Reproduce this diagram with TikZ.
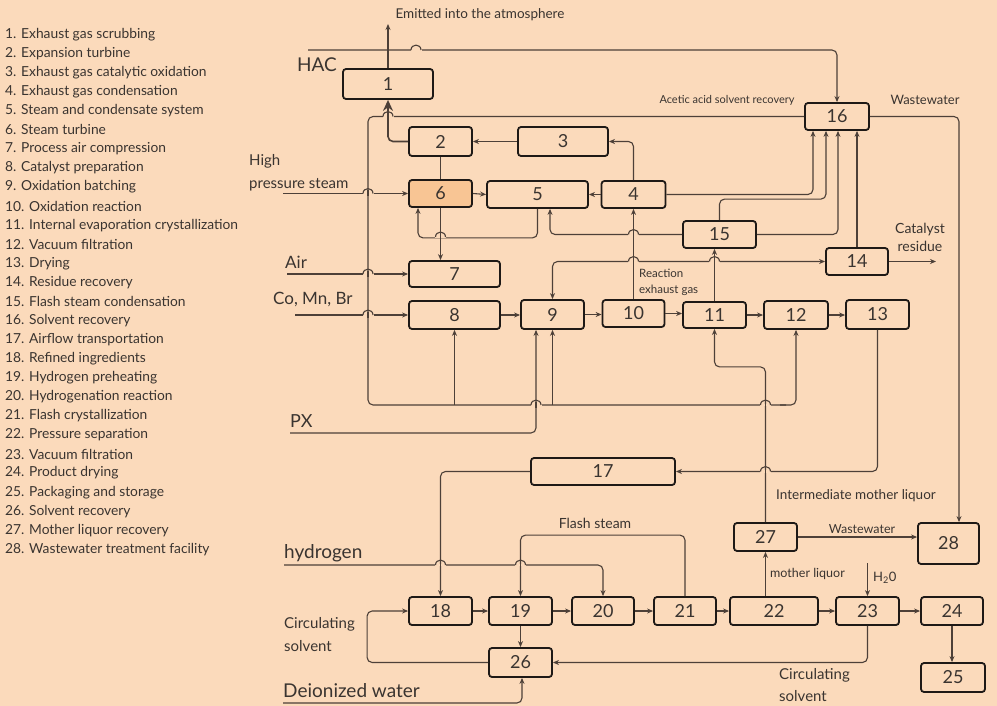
\documentclass[tikz,border=0pt]{standalone}
\usepackage{fontspec}
\setmainfont{Lato}
\usetikzlibrary{arrows.meta,calc}
\definecolor{bgcol}{RGB}{251,218,187}
\definecolor{hotcol}{RGB}{248,197,148}
\definecolor{linecol}{RGB}{77,64,56}
\definecolor{boxcol}{RGB}{30,25,22}
\definecolor{txtcol}{RGB}{58,52,48}
\tikzset{
  box/.style={draw=boxcol, line width=1.8pt, rounded corners=3pt, fill=bgcol, inner sep=0pt,
    text=txtcol, font=\fontsize{18}{18}\selectfont},
  line/.style={draw=linecol, line width=1.1pt},
  conn/.style={line, rounded corners=5pt, -{Stealth[length=6pt,width=5pt]}},
  lbl/.style={text=txtcol, inner sep=0pt},
  legend/.style={lbl, anchor=west, font=\fontsize{13.8}{15}\selectfont},
}
\newcommand\hop[3][]{%
  \fill[bgcol] ({#2-5.5},{#3-1.4}) rectangle ({#2+5.5},{#3+1.4});
  \draw[line,#1] ({#2},{#3-3}) -- ({#2},{#3+3});
  \draw[line] ({#2-5},{#3}) .. controls ({#2-5},{#3-6.5}) and ({#2+5},{#3-6.5}) .. ({#2+5},{#3});}
\newcommand\hopn[2]{%
  \fill[bgcol] ({#1-5.5},{#2-1.4}) rectangle ({#1+5.5},{#2+1.4});
  \draw[line] ({#1-5},{#2}) .. controls ({#1-5},{#2-6.5}) and ({#1+5},{#2-6.5}) .. ({#1+5},{#2});}
\begin{document}
\begin{tikzpicture}[x=1pt,y=-1pt]
\fill[bgcol] (0,0) rectangle (997,706);
\path[use as bounding box] (0,0) rectangle (997,706);

% legend
\foreach \t [count=\i] in {1. Exhaust gas scrubbing, 2. Expansion turbine, 3. Exhaust gas catalytic oxidation,
  4. Exhaust gas condensation, 5. Steam and condensate system, 6. Steam turbine, 7. Process air compression,
  8. Catalyst preparation, 9. Oxidation batching, 10. Oxidation reaction, 11. Internal evaporation crystallization,
  12. Vacuum filtration, 13. Drying, 14. Residue recovery, 15. Flash steam condensation, 16. Solvent recovery,
  17. Airflow transportation, 18. Refined ingredients, 19. Hydrogen preheating, 20. Hydrogenation reaction,
  21. Flash crystallization, 22. Pressure separation, 23. Vacuum filtration, 24. Product drying,
  25. Packaging and storage, 26. Solvent recovery, 27. Mother liquor recovery, 28. Wastewater treatment facility}
  \node[legend] (leg\i) at (5,{34.5+(\i-1)*19.07}) {\t};

% boxes
\node[box, minimum width=90pt, minimum height=30pt] (n1) at (388,84) {1};
\node[box, minimum width=63pt, minimum height=29pt] (n2) at (440.5,141.5) {2};
\node[box, minimum width=90pt, minimum height=29pt] (n3) at (563,141.5) {3};
\node[box, minimum width=64pt, minimum height=27pt] (n4) at (633.5,194.5) {4};
\node[box, minimum width=101pt, minimum height=27pt] (n5) at (537.5,194.5) {5};
\node[box, fill=hotcol, minimum width=63pt, minimum height=27pt] (n6) at (440.5,193.5) {6};
\node[box, minimum width=91pt, minimum height=26pt] (n7) at (454.5,274) {7};
\node[box, minimum width=91pt, minimum height=28pt] (n8) at (454.5,315) {8};
\node[box, minimum width=63pt, minimum height=29pt] (n9) at (552.5,314.5) {9};
\node[box, minimum width=62pt, minimum height=27pt] (n10) at (633.5,313.5) {10};
\node[box, minimum width=63pt, minimum height=26pt] (n11) at (714.5,315) {11};
\node[box, minimum width=64pt, minimum height=28pt] (n12) at (796,315) {12};
\node[box, minimum width=63pt, minimum height=29pt] (n13) at (877.5,314.5) {13};
\node[box, minimum width=62pt, minimum height=27pt] (n14) at (857,261.5) {14};
\node[box, minimum width=73pt, minimum height=27pt] (n15) at (719.5,234.5) {15};
\node[box, minimum width=64pt, minimum height=27pt] (n16) at (837,116.5) {16};
\node[box, minimum width=144pt, minimum height=27pt] (n17) at (603,471.5) {17};
\node[box, minimum width=63pt, minimum height=28pt] (n18) at (440.5,611) {18};
\node[box, minimum width=63pt, minimum height=28pt] (n19) at (520.5,611) {19};
\node[box, minimum width=62pt, minimum height=28pt] (n20) at (603,611) {20};
\node[box, minimum width=62pt, minimum height=28pt] (n21) at (685,611) {21};
\node[box, minimum width=88pt, minimum height=28pt] (n22) at (774,611) {22};
\node[box, minimum width=63pt, minimum height=28pt] (n23) at (867.5,611) {23};
\node[box, minimum width=62pt, minimum height=28pt] (n24) at (952,611) {24};
\node[box, minimum width=64pt, minimum height=29pt] (n25) at (953,677.5) {25};
\node[box, minimum width=63pt, minimum height=29pt] (n26) at (520.5,662.5) {26};
\node[box, minimum width=63pt, minimum height=28pt] (n27) at (765.5,537) {27};
\node[box, minimum width=61pt, minimum height=41pt] (n28) at (948.5,543.5) {28};

% free ends
\coordinate (atm) at (388,24);
\coordinate (hacS) at (308,50);
\coordinate (steamS) at (283,193.5);
\coordinate (airS) at (287,274);
\coordinate (coS) at (295,315);
\coordinate (pxS) at (290,433);
\coordinate (h2S) at (284,565);
\coordinate (diS) at (283,703);
\coordinate (cres) at (936,261.5);
\coordinate (h2o) at (867.5,563);

% labels
\node[lbl, font=\fontsize{13.5}{15}\selectfont] (tatm) at (480,15) {Emitted into the atmosphere};
\node[lbl, anchor=west, font=\fontsize{19}{21}\selectfont] (thac) at (297,65) {HAC};
\node[lbl, anchor=west, align=left, font=\fontsize{15}{23}\selectfont] (tsteam) at (249,172.5) {High\\pressure steam};
\node[lbl, anchor=west, font=\fontsize{17}{19}\selectfont] (tair) at (285,262) {Air};
\node[lbl, anchor=west, font=\fontsize{17}{19}\selectfont] (tco) at (273,299) {Co, Mn, Br};
\node[lbl, anchor=west, font=\fontsize{18}{20}\selectfont] (tpx) at (290,421) {PX};
\node[lbl, anchor=west, font=\fontsize{19}{21}\selectfont] (th2) at (284,553) {hydrogen};
\node[lbl, anchor=west, align=left, font=\fontsize{15}{23}\selectfont] (tcs1) at (284,634.5) {Circulating\\solvent};
\node[lbl, anchor=west, font=\fontsize{19}{21}\selectfont] (tdi) at (283,691) {Deionized water};
\node[lbl, font=\fontsize{11}{13}\selectfont] (tacet) at (727,100.5) {Acetic acid solvent recovery};
\node[lbl, font=\fontsize{13}{15}\selectfont] (tww1) at (925,100) {Wastewater};
\node[lbl, align=center, font=\fontsize{14}{18}\selectfont] (tcat) at (920,237) {Catalyst\\residue};
\node[lbl, anchor=west, align=left, font=\fontsize{11.5}{16}\selectfont] (treac) at (639,282) {Reaction\\exhaust gas};
\node[lbl, anchor=west, font=\fontsize{13.5}{15}\selectfont] (timl) at (776,496) {Intermediate mother liquor};
\node[lbl, font=\fontsize{14}{16}\selectfont] (tfs) at (595,523) {Flash steam};
\node[lbl, font=\fontsize{12.5}{15}\selectfont] (tww2) at (862,529) {Wastewater};
\node[lbl, anchor=west, font=\fontsize{12.5}{15}\selectfont] (tml) at (770,574) {mother liquor};
\node[lbl, anchor=west, font=\fontsize{13}{15}\selectfont] (th2o) at (873,578) {H\textsubscript{2}0};
\node[lbl, anchor=west, align=left, font=\fontsize{15}{22}\selectfont] (tcs2) at (779,685) {Circulating\\solvent};

% connectors
\draw[conn] (n1.north) -- (atm);
\draw[conn] (hacS) -| (n16.north);
\draw[conn, line width=1.6pt, -{Stealth[length=11pt,width=10pt]}] (n2.west) -| (n1.south);
\draw[line, rounded corners=5pt] (n16.west) -- (368,116.5) -- (368,405) -- (786,405);
\draw[conn] (780,405) -| (n12.south);
\draw[conn] (n8.south |- 0,405) -- (n8.south);
\draw[conn] (n9.south |- 0,405) -- (n9.south);
\draw[conn] (n4.north) |- (n3.east);
\draw[conn] (n3.west) -- (n2.east);
\draw[line] (n2.south) -- (n6.north);
\draw[conn] (n6.south) -- (n6.south |- n7.north);
\draw[conn] (n6.east) -- (n5.west);
\draw[conn] (n4.west) -- (n5.east);
\draw[conn] (n5.south) -- ++(0,29) -| ([xshift=-22.5pt]n6.south);
\draw[conn] (n15.west) -| ([xshift=12.5pt]n5.south);
\draw[conn] (n10.north) -- (n4.south);
\draw[conn] (n4.east) -| ([xshift=-24pt]n16.south);
\draw[conn] (n15.north) -- ++(0,-21) -| ([xshift=-11pt]n16.south);
\draw[conn] (n15.east) -| ([xshift=1pt]n16.south);
\draw[conn] (n14.north) -- (n14.north |- n16.south);
\draw[conn] (n16.east) -| ([xshift=10.5pt]n28.north);
\draw[conn] (n11.north) -- (n11.north |- n15.south);
\draw[conn, {Stealth[length=6pt,width=5pt]}-{Stealth[length=6pt,width=5pt]}] (n9.north) |- (n14.west);
\draw[conn] (n14.east) -- (cres);
\draw[conn] (n8.east) -- (n9.west |- n8.east);
\draw[conn] (n9.east) -- (n10.west |- n9.east);
\draw[conn] (n10.east) -- (n11.west |- n10.east);
\draw[conn] (n11.east) -- (n12.west);
\draw[conn] (n12.east) -- (n13.west |- n12.east);
\draw[conn] (steamS) -- (n6.west);
\draw[conn] (airS) -- (n7.west);
\draw[conn] (coS) -- (n8.west);
\draw[conn] (pxS) -| ([xshift=-16.5pt]n9.south);
\draw[conn] (n13.south) |- (n17.east);
\draw[conn] (n27.north) |- ([yshift=-38pt]n11.south) -- (n11.south);
\draw[conn] (n17.west) -| (n18.north);
\draw[conn] (h2S) -| (n20.north);
\draw[conn] (n21.north) -- ++(0,-61) -| (n19.north);
\draw[conn] (n18.east) -- (n19.west);
\draw[conn] (n19.east) -- (n20.west);
\draw[conn] (n20.east) -- (n21.west);
\draw[conn] (n21.east) -- (n22.west);
\draw[conn] (n22.east) -- (n23.west);
\draw[conn] (n23.east) -- (n24.west);
\draw[conn] (n19.south) -- (n26.north);
\draw[conn] (diS) -| ([xshift=1.5pt]n26.south);
\draw[conn] (n26.west) -- ++(-121,0) |- (n18.west);
\draw[conn] (n23.south) |- (n26.east);
\draw[conn] (n22.north -| n27.south) -- (n27.south);
\draw[conn] (n27.east) -- (n28.west |- n27.east);
\draw[conn] (h2o) -- (n23.north);
\draw[conn] (n24.south) -- (n24.south |- n25.north);

% line jumps
\hopn{416}{50}
\hop[line width=1.6pt]{388}{116.5}
\hop{368}{193.5}
\hop{368}{274}
\hop{368}{315}
\hop{440.5}{237}
\hop{633.5}{234.5}
\hop{633.5}{261.5}
\hop{714.5}{261.5}
\hop{536}{405}
\hop{765.5}{405}
\hop{765.5}{471.5}
\hop{440.5}{565}
\hop{520.5}{565}
\end{tikzpicture}
\end{document}
